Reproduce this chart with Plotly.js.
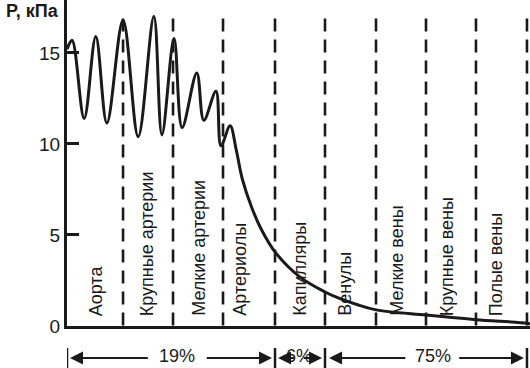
<!DOCTYPE html>
<html>
<head>
<meta charset="utf-8">
<script src="https://cdn.plot.ly/plotly-3.0.1.min.js"></script>
<style>html,body{margin:0;padding:0;background:#fff;}#chart{width:530px;height:368px;}</style>
</head>
<body>
<div id="chart"></div>
<script>
// Pressure curve along the vascular bed (x in "segment" units, y in kPa)
const curveX = [0, 0.10, 0.34, 0.57, 0.79, 1.11, 1.41, 1.72, 1.88, 2.12, 2.28, 2.57, 2.71, 2.95, 3.05, 3.23, 3.35, 3.47, 3.66, 3.85, 4.12, 4.61, 5.11, 5.41, 5.74, 6.10, 7.11, 8.10, 9.11, 9.17];
const curveY = [15.2, 15.7, 11.4, 15.9, 11.15, 16.8, 10.4, 17.0, 10.5, 15.8, 10.9, 13.9, 11.3, 12.9, 9.9, 11.0, 9.7, 8.1, 6.5, 5.3, 4.07, 2.7, 1.87, 1.5, 1.18, 0.9, 0.6, 0.35, 0.15, 0.1];

// Vessel segments
const segmentNames = ["Аорта", "Крупные артерии", "Мелкие артерии", "Артериолы", "Капилляры", "Венулы", "Мелкие вены", "Крупные вены", "Полые вены"];
const segmentLabelX = [0.59, 1.60, 2.61, 3.43, 4.61, 5.50, 6.53, 7.54, 8.51];
const boundaries = [1.11, 2.10, 3.09, 4.12, 5.11, 6.12, 7.11, 8.10, 9.11];

// Blood volume distribution
const groupStart = [0, 4.12, 5.11];
const groupEnd = [4.12, 5.11, 9.11];
const groupLabels = ["19%", "6%", "75%"];
const groupLabelX = [2.17, 4.59, 7.24];

const yTicks = [0, 5, 10, 15];
const yTitle = "P, кПа";

const ink = "#1a1a1a";
const font = "Liberation Sans, Arial, sans-serif";

const shapes = [];
boundaries.forEach(b => shapes.push({
  type: "line", xref: "x", yref: "y", x0: b, x1: b, y0: 16.9, y1: 0,
  line: {color: ink, width: 2.6, dash: "13px,8px"}
}));
const barY0 = (326 - 348) / 326, barY1 = (326 - 372) / 326;
const barXs = [groupStart[0]].concat(groupEnd);
barXs.forEach(b => shapes.push({
  type: "line", xref: "x", yref: "paper", x0: b, x1: b, y0: barY0, y1: barY1,
  line: {color: ink, width: 2.5}
}));

const annotations = [];
segmentNames.forEach((n, i) => annotations.push({
  x: segmentLabelX[i], y: 0.44, xref: "x", yref: "y", text: n, textangle: -90,
  xanchor: "center", yanchor: "bottom", showarrow: false,
  font: {family: font, size: 18, color: ink}
}));
const arrowY = (326 - 358) / 326;
const textY = (326 - 356) / 326;
const pxPerUnit = 50.5;
groupLabels.forEach((g, i) => {
  annotations.push({x: groupLabelX[i], y: textY, xref: "x", yref: "paper", text: g, showarrow: false,
    xanchor: "center", yanchor: "middle", font: {family: font, size: 18, color: ink}});
});
const gap = [[0.06, 1.63, 2.74, 4.06], [4.18, 4.52, 4.66, 5.05], [5.19, 6.73, 7.74, 9.05]];
gap.forEach(g => {
  annotations.push({x: g[0], y: arrowY, xref: "x", yref: "paper", text: "", showarrow: true,
    ax: (g[1] - g[0]) * pxPerUnit, ay: 0, arrowhead: 2, arrowsize: 1.3, arrowwidth: 2, arrowcolor: ink, standoff: 0, startstandoff: 0});
  annotations.push({x: g[3], y: arrowY, xref: "x", yref: "paper", text: "", showarrow: true,
    ax: (g[2] - g[3]) * pxPerUnit, ay: 0, arrowhead: 2, arrowsize: 1.3, arrowwidth: 2, arrowcolor: ink, standoff: 0, startstandoff: 0});
});
annotations.push({x: -0.012, y: 0.965, xref: "paper", yref: "paper", text: "<b>" + yTitle + "</b>",
  showarrow: false, xanchor: "right", yanchor: "middle", font: {family: font, size: 18, color: ink}});

const trace = {
  x: curveX, y: curveY, type: "scatter", mode: "lines",
  line: {color: ink, width: 3, shape: "spline", smoothing: 1},
  hoverinfo: "skip", cliponaxis: false
};

const layout = {
  width: 530, height: 368,
  margin: {l: 67, r: 0, t: 0, b: 42, pad: 0},
  paper_bgcolor: "#fff", plot_bgcolor: "#fff",
  showlegend: false,
  xaxis: {range: [0, 9.17], showgrid: false, zeroline: false, showticklabels: false, ticks: "",
    showline: true, linecolor: ink, linewidth: 3, fixedrange: true},
  yaxis: {range: [0, 17.91], showgrid: false, zeroline: false, tickvals: yTicks,
    ticks: "inside", ticklen: 12, tickwidth: 3, tickcolor: ink,
    showline: true, linecolor: ink, linewidth: 3,
    tickfont: {family: font, size: 19, color: ink}, fixedrange: true},
  shapes: shapes,
  annotations: annotations
};

Plotly.newPlot("chart", [trace], layout, {staticPlot: true, displayModeBar: false});
</script>
</body>
</html>
